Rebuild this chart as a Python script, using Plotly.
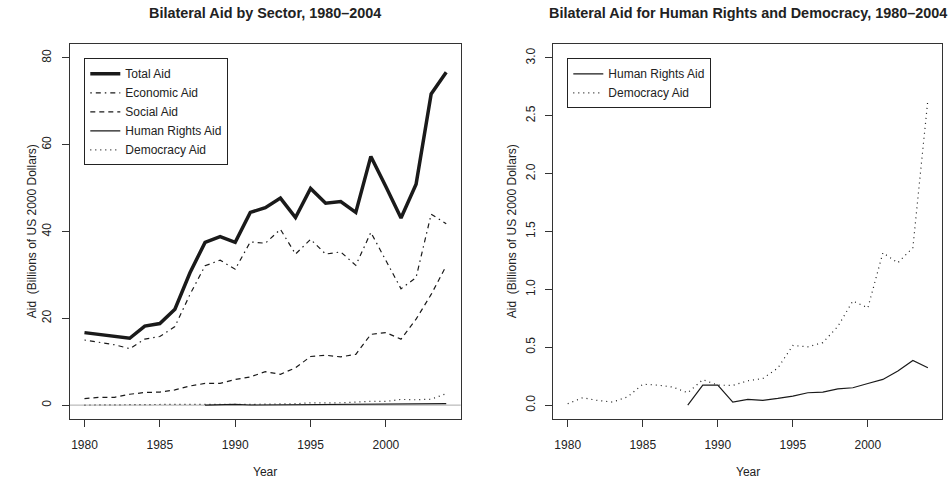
import plotly.graph_objects as go

years = list(range(1980, 2005))

total_aid = [16.7, 16.3, 15.9, 15.4, 18.2, 18.8, 22.1, 30.5, 37.5, 38.8, 37.5, 44.4, 45.5,
             47.7, 43.2, 49.9, 46.5, 46.9, 44.4, 57.3, 50.3, 43.1, 50.9, 71.7, 76.7]
economic_aid = [15.0, 14.4, 13.9, 13.0, 15.2, 15.8, 18.1, 25.5, 32.1, 33.4, 31.3, 37.6, 37.3,
                40.5, 34.8, 38.2, 34.8, 35.3, 32.2, 39.8, 33.2, 26.8, 29.4, 44.0, 41.8]
social_aid = [1.5, 1.8, 1.8, 2.5, 2.9, 3.0, 3.5, 4.4, 5.0, 5.0, 5.9, 6.5, 7.7,
              7.1, 8.6, 11.2, 11.5, 11.1, 11.7, 16.3, 16.7, 15.2, 19.8, 25.5, 32.1]
human_rights_aid = [None, None, None, None, None, None, None, None, 0.0, 0.173, 0.173, 0.026, 0.049,
                    0.041, 0.058, 0.078, 0.107, 0.112, 0.141, 0.150, 0.187, 0.222, 0.294, 0.386, 0.323]
democracy_aid = [0.012, 0.064, 0.040, 0.026, 0.072, 0.180, 0.173, 0.156, 0.107, 0.220, 0.173, 0.170, 0.210,
                 0.230, 0.320, 0.515, 0.504, 0.540, 0.680, 0.900, 0.840, 1.316, 1.230, 1.360, 2.640]

x_ticks = [1980, 1985, 1990, 1995, 2000]
left_y_ticks = [0, 20, 40, 60, 80]
right_y_ticks = [0.0, 0.5, 1.0, 1.5, 2.0, 2.5, 3.0]

title_left = "Bilateral Aid by Sector, 1980\u20132004"
title_right = "Bilateral Aid for Human Rights and Democracy, 1980\u20132004"
y_title = "Aid  (Billions of US 2000 Dollars)"
x_title = "Year"

FONT = "Liberation Sans, Arial, Helvetica, sans-serif"
INK = "#1a1a1a"
AX = "#333333"
TXT = "#222222"

fig = go.Figure()

fig.add_trace(go.Scatter(x=years, y=total_aid, name="Total Aid", mode="lines",
                         line=dict(color=INK, width=3.5), xaxis="x", yaxis="y", legend="legend"))
fig.add_trace(go.Scatter(x=years, y=economic_aid, name="Economic Aid", mode="lines",
                         line=dict(color=INK, width=1.2, dash="1.5px,4px,5px,4px"),
                         xaxis="x", yaxis="y", legend="legend"))
fig.add_trace(go.Scatter(x=years, y=social_aid, name="Social Aid", mode="lines",
                         line=dict(color=INK, width=1.2, dash="5px,4px"),
                         xaxis="x", yaxis="y", legend="legend"))
fig.add_trace(go.Scatter(x=years, y=human_rights_aid, name="Human Rights Aid", mode="lines",
                         line=dict(color=INK, width=1.2), connectgaps=False,
                         xaxis="x", yaxis="y", legend="legend"))
fig.add_trace(go.Scatter(x=years, y=democracy_aid, name="Democracy Aid", mode="lines",
                         line=dict(color=INK, width=1.2, dash="1px,4px"),
                         xaxis="x", yaxis="y", legend="legend"))

fig.add_trace(go.Scatter(x=years, y=human_rights_aid, name="Human Rights Aid", mode="lines",
                         line=dict(color=INK, width=1.2), connectgaps=False,
                         xaxis="x2", yaxis="y2", legend="legend2"))
fig.add_trace(go.Scatter(x=years, y=democracy_aid, name="Democracy Aid", mode="lines",
                         line=dict(color=INK, width=1.2, dash="1px,4px"),
                         xaxis="x2", yaxis="y2", legend="legend2"))

W, H = 950, 481
L_dom = [70 / W, 460.7 / W]
R_dom = [553.3 / W, 942.3 / W]
Y_dom = [(H - 419) / H, (H - 44) / H]

xcommon = dict(range=[1979.04, 2004.96], tickvals=x_ticks, ticks="outside", ticklen=7,
               tickcolor=AX, showline=True, linecolor=AX, linewidth=1, mirror=True,
               showgrid=False, zeroline=False, ticklabelstandoff=8,
               tickfont=dict(family=FONT, size=12, color=TXT))
ycommon = dict(ticks="outside", ticklen=7, tickcolor=AX, showline=True, linecolor=AX,
               linewidth=1, mirror=True, showgrid=False, zeroline=False, tickangle=-90,
               ticklabelstandoff=6, tickfont=dict(family=FONT, size=12, color=TXT))

legend_common = dict(bordercolor="#222", borderwidth=1, bgcolor="white",
                     font=dict(family=FONT, size=12, color=TXT),
                     xanchor="left", yanchor="top", tracegroupgap=0)

fig.update_layout(
    width=W, height=H, margin=dict(l=0, r=0, t=0, b=0),
    paper_bgcolor="white", plot_bgcolor="white",
    font=dict(family=FONT, color=TXT),
    xaxis=dict(domain=L_dom, anchor="y", **xcommon),
    yaxis=dict(domain=Y_dom, anchor="x", range=[-3.2, 83.2], tickvals=left_y_ticks, **ycommon),
    xaxis2=dict(domain=R_dom, anchor="y2", **xcommon),
    yaxis2=dict(domain=Y_dom, anchor="x2", range=[-0.12, 3.12], tickvals=right_y_ticks,
                tickformat=".1f", **ycommon),
    legend=dict(x=84.3 / W, y=1 - 58.3 / H, **legend_common),
    legend2=dict(x=567.3 / W, y=1 - 58.3 / H, **legend_common),
    showlegend=True,
    shapes=[dict(type="line", xref="x domain", yref="y", x0=0, x1=1, y0=0, y1=0,
                 line=dict(color="#aaaaaa", width=1), layer="below")],
    annotations=[
        dict(text="<b>%s</b>" % title_left, x=265.3 / W, y=1 - 13 / H, xref="paper", yref="paper",
             showarrow=False, font=dict(family=FONT, size=14.4, color=TXT), xanchor="center", yanchor="middle"),
        dict(text="<b>%s</b>" % title_right, x=747.8 / W, y=1 - 13 / H, xref="paper", yref="paper",
             showarrow=False, font=dict(family=FONT, size=14.4, color=TXT), xanchor="center", yanchor="middle"),
        dict(text=y_title, x=31.7 / W, y=1 - 231.5 / H, xref="paper", yref="paper", textangle=-90,
             showarrow=False, font=dict(family=FONT, size=12, color=TXT), xanchor="center", yanchor="middle"),
        dict(text=y_title, x=511.7 / W, y=1 - 231.5 / H, xref="paper", yref="paper", textangle=-90,
             showarrow=False, font=dict(family=FONT, size=12, color=TXT), xanchor="center", yanchor="middle"),
        dict(text=x_title, x=265.3 / W, y=1 - 471.7 / H, xref="paper", yref="paper",
             showarrow=False, font=dict(family=FONT, size=12, color=TXT), xanchor="center", yanchor="middle"),
        dict(text=x_title, x=747.8 / W, y=1 - 471.7 / H, xref="paper", yref="paper",
             showarrow=False, font=dict(family=FONT, size=12, color=TXT), xanchor="center", yanchor="middle"),
    ],
)

fig.write_html("out.html", config={"displayModeBar": False},
               post_script="document.body.style.margin='0';document.body.style.overflow='hidden';")
